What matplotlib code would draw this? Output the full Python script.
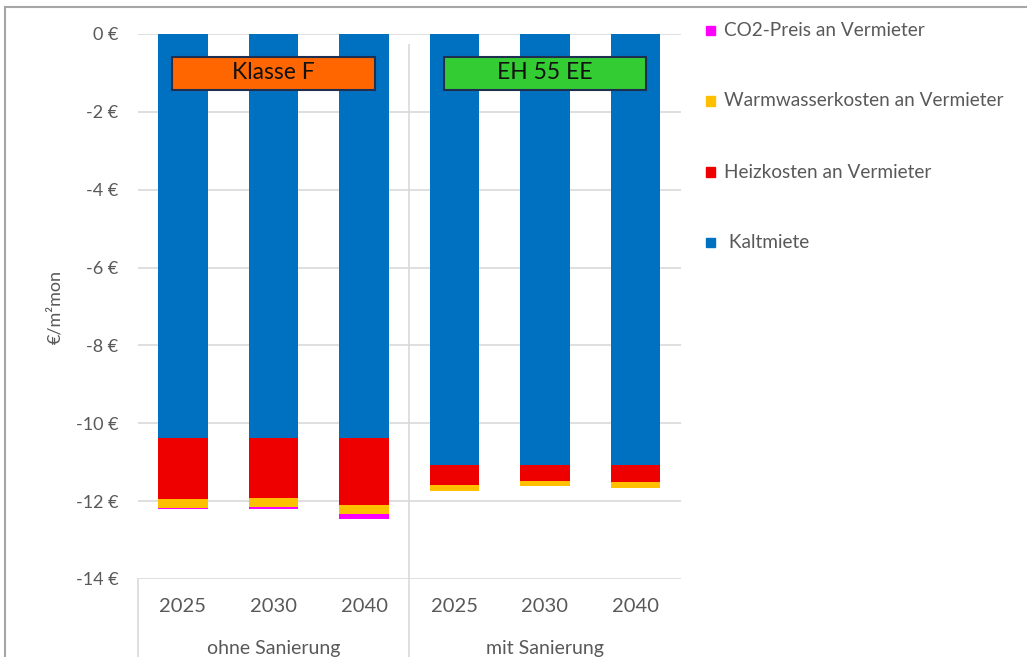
import numpy as np
import matplotlib.pyplot as plt
from matplotlib.patches import Rectangle
from matplotlib.lines import Line2D

plt.rcParams['font.family'] = ['Lato', 'DejaVu Sans']

years = ['2025', '2030', '2040', '2025', '2030', '2040']
groups = ['ohne Sanierung', 'mit Sanierung']
series = ['Kaltmiete', 'Heizkosten an Vermieter', 'Warmwasserkosten an Vermieter', 'CO2-Preis an Vermieter']
kaltmiete = [-10.39, -10.39, -10.39, -11.08, -11.08, -11.08]
heizkosten = [-1.56, -1.53, -1.72, -0.50, -0.40, -0.42]
warmwasser = [-0.22, -0.22, -0.23, -0.17, -0.14, -0.15]
co2 = [-0.04, -0.07, -0.12, 0.0, 0.0, 0.0]
colors = ['#0070C0', '#EE0000', '#FFC000', '#FF00FF']
yticks = [0, -2, -4, -6, -8, -10, -12, -14]

W, H = 1027, 657
fig = plt.figure(figsize=(W / 100, H / 100), dpi=100)
ax = fig.add_axes([137.75 / W, 1 - 579 / H, 543 / W, 545 / H])

x = np.arange(len(years))
bottom = np.zeros(len(years))
for vals, c in zip([kaltmiete, heizkosten, warmwasser, co2], colors):
    ax.bar(x, vals, 0.55, bottom=bottom, color=c, zorder=2)
    bottom += np.array(vals)

ax.set_xlim(-0.5, 5.5)
ax.set_ylim(-14, 0)
ax.set_yticks(yticks)
ax.set_yticklabels([f'{v} €' for v in yticks], fontsize=13, color='#595959')
ax.tick_params(axis='y', length=0, pad=14)
ax.set_xticks([])
for t in yticks:
    ax.axhline(t, color='#D9D9D9', lw=1.2, zorder=1)
for s in ax.spines.values():
    s.set_visible(False)
ax.set_ylabel('€/m²mon', fontsize=13, color='#595959', labelpad=9)

# Kategorienachse unten
trans = ax.get_xaxis_transform()
for i, y in enumerate(years):
    ax.text(i, -0.05, y, transform=trans, ha='center', va='center', fontsize=14.5, color='#595959', clip_on=False)
for g, xc in zip(groups, [1, 4]):
    ax.text(xc, -0.128, g, transform=trans, ha='center', va='center', fontsize=14, color='#595959', clip_on=False)
ax.plot([-0.5, -0.5], [0, -0.2], transform=trans, color='#D9D9D9', lw=1.2, clip_on=False)
ax.plot([2.5, 2.5], [-0.2, 0.98], transform=trans, color='#D9D9D9', lw=1.2, clip_on=False, zorder=1)

# Beschriftungskästen
for xc, label, fc in [(1, 'Klasse F', '#FF6600'), (4, 'EH 55 EE', '#33CC33')]:
    ax.add_patch(Rectangle((xc - 1.12, -1.43), 2.24, 0.84, facecolor=fc, edgecolor='#1F2F4F', lw=1.5, zorder=3))
    ax.text(xc, -1.0, label, ha='center', va='center', fontsize=16.5, color='#111111', zorder=4)

# Legende
leg_items = list(zip(series, colors))[::-1]
for k, (name, c) in enumerate(leg_items):
    yy = 1 - (30 + 71 * k) / H
    fig.patches.append(Rectangle((706 / W, yy - 4.5 / H), 9 / W, 9 / H, transform=fig.transFigure, color=c))
    fig.text(724 / W, yy, (' ' + name) if name == 'Kaltmiete' else name, ha='left', va='center', fontsize=13.7, color='#595959')

# Rahmen
fig.add_artist(Line2D([5 / W, 5 / W], [0, 1 - 7 / H], transform=fig.transFigure, color='#A6A6A6', lw=1.5))
fig.add_artist(Line2D([5 / W, 1], [1 - 7 / H, 1 - 7 / H], transform=fig.transFigure, color='#A6A6A6', lw=1.5))

fig.savefig('out.png', dpi=100)
